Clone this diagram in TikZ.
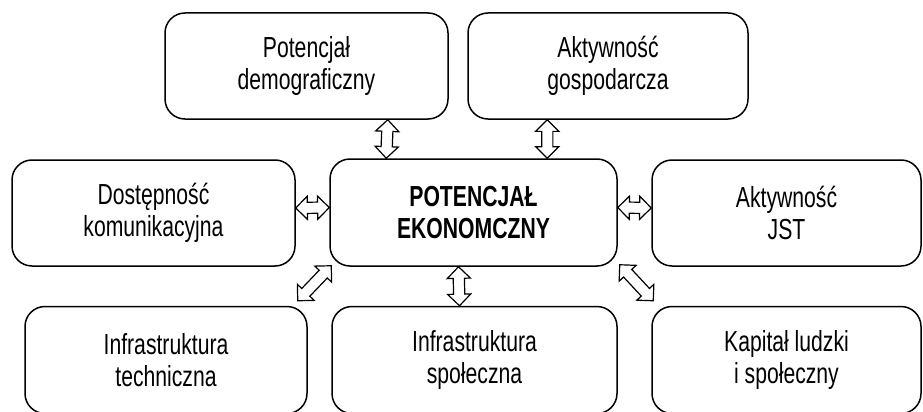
\documentclass[tikz,border=0pt]{standalone}
\usepackage{fontspec}
\setmainfont[FakeStretch=0.73]{Liberation Sans}
\usetikzlibrary{shapes.arrows,calc}

\tikzset{
  box/.style={draw, line width=1.5pt, rounded corners=20pt, align=center,
    inner sep=0pt, font=\fontsize{29}{32}\selectfont},
  dblink/.style={to path={let \p1=(\tikztostart), \p2=(\tikztotarget),
      \n1={veclen(\x2-\x1,\y2-\y1)} in
      -- (\tikztotarget) node[midway, sloped, double arrow, draw, fill=white,
        line width=1.2pt, inner xsep=0pt, inner ysep=5pt,
        double arrow head extend=6pt, minimum height=\n1] {}}}
}

\begin{document}
\begin{tikzpicture}[x=1pt, y=-1pt]

  \useasboundingbox (0,0) rectangle (923,412);
  \clip (0,0) rectangle (923,412);

  % --- top row ---
  \node[box, minimum width=283pt, minimum height=106pt] (demo) at (306.5,66) {Potencjał\\demograficzny};
  \node[box, minimum width=280pt, minimum height=106pt] (gosp) at (608,66) {Aktywność\\gospodarcza};

  % --- middle row ---
  \node[box, minimum width=283pt, minimum height=106pt] (dost) at (153.5,213) {Dostępność\\komunikacyjna};
  \node[box, minimum width=287pt, minimum height=107pt, font=\fontsize{29}{32}\selectfont\bfseries] (cen) at (473.5,212.5) {POTENCJAŁ\\EKONOMCZNY};
  \node[box, minimum width=269pt, minimum height=106pt] (jst) at (786.5,213) {Aktywność\\JST};

  % --- bottom row ---
  \node[box, minimum width=282pt, minimum height=107pt] (tech) at (166,360) {Infrastruktura\\techniczna};
  \node[box, minimum width=285pt, minimum height=107pt] (spol) at (474.5,360) {Infrastruktura\\społeczna};
  \node[box, minimum width=269pt, minimum height=107pt] (kap) at (786.5,360) {Kapitał ludzki\\i społeczny};

  % --- links ---
  \path ([xshift=-61pt]demo.south east) to[dblink] ([xshift=57pt]cen.north west);
  \path ([xshift=80pt]gosp.south west) to[dblink] ([xshift=218pt]cen.north west);
  \path ([yshift=5pt]dost.east) to[dblink] ([yshift=5pt]cen.west);
  \path ([yshift=5pt]cen.east) to[dblink] ([yshift=5pt]jst.west);
  \path ([shift={(2pt,1pt)}]cen.south west) to[dblink] ([shift={(-10pt,5pt)}]tech.north east);
  \path ([xshift=-15pt]cen.south) to[dblink] ([xshift=-15pt]spol.north);
  \path ([shift={(2pt,2pt)}]cen.south east) to[dblink] ([shift={(2pt,5pt)}]kap.north west);

\end{tikzpicture}
\end{document}
